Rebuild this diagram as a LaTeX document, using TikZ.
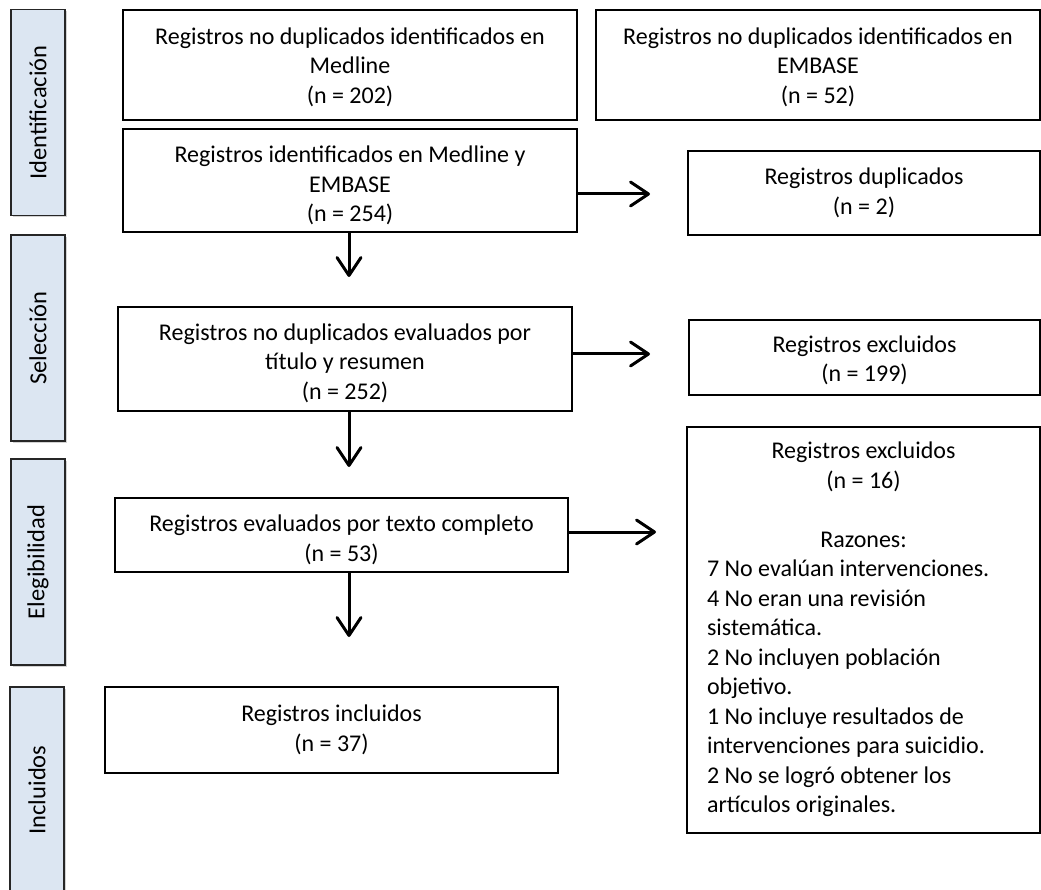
\documentclass[tikz,border=0pt]{standalone}
\usepackage{fontspec}
\setmainfont{Carlito}
\usepackage{graphicx}
\usetikzlibrary{arrows.meta,shadows}
\definecolor{sidefill}{RGB}{220,230,242}
\begin{document}
\begin{tikzpicture}[x=1pt,y=-1pt,
  txt/.style={align=center, inner sep=0pt, font=\fontsize{24}{29.5}\selectfont},
  boxbase/.style={draw=black, line width=1.6pt, inner sep=0pt, font=\fontsize{24}{29.5}\selectfont},
  box/.style={boxbase},
  side/.style={draw=black!85, line width=1.6pt, fill=sidefill, minimum width=54pt, minimum height=206pt, inner sep=0pt,
    drop shadow={shadow xshift=2pt, shadow yshift=-2pt, opacity=0.35}, font=\fontsize{24.5}{29.5}\selectfont},
  arr/.style={line width=3pt, -{Straight Barb[length=18pt,width=24pt,round]}}]
\useasboundingbox (0,0) rectangle (1041,890);

% side labels
\node[side] (s1) at (38,112.5) {\rotatebox{90}{Identificación}};
\node[side] (s2) at (38,338) {\rotatebox{90}{Selección}};
\node[side] (s3) at (38,562) {\rotatebox{90}{Elegibilidad}};
\node[side] (s4) at (37,790) {\rotatebox{90}{Incluidos}};

% boxes
\node[box, minimum width=454pt, minimum height=110pt,
  label={[txt,yshift=-2pt]center:Registros no duplicados identificados en\\Medline\\(n = 202)}] (b1) at (350,65) {};
\node[box, minimum width=444pt, minimum height=110pt,
  label={[txt,yshift=-2pt]center:Registros no duplicados identificados en\\EMBASE\\(n = 52)}] (b2) at (818,65) {};
\node[box, minimum width=454pt, minimum height=103pt,
  label={[txt,yshift=-5pt]center:Registros identificados en Medline y\\EMBASE\\(n = 254)}] (b3) at (350,180.5) {};
\node[box, minimum width=352pt, minimum height=84pt,
  label={[txt,yshift=0pt]center:Registros duplicados\\(n = 2)}] (b4) at (864,193) {};
\node[box, minimum width=454pt, minimum height=104pt,
  label={[txt,yshift=-4pt]center:Registros no duplicados evaluados por\\título y resumen\\(n = 252)}] (b5) at (345,359) {};
\node[box, minimum width=351pt, minimum height=75pt,
  label={[txt,yshift=-3pt]center:Registros excluidos\\(n = 199)}] (b6) at (864.5,357.5) {};
\node[box, minimum width=453pt, minimum height=74pt,
  label={[txt,yshift=-5pt]center:Registros evaluados por texto completo\\(n = 53)}] (b7) at (341.5,535) {};
\node[boxbase, minimum width=353pt, minimum height=406pt] (b8) at (863.5,630)
  {\begin{tabular}{@{}l@{}}
   \makebox[313pt][c]{Registros excluidos}\\
   \makebox[313pt][c]{(n = 16)}\\[29.5pt]
   \makebox[313pt][c]{Razones:}\\
   7 No evalúan intervenciones.\\
   4 No eran una revisión\\
   sistemática.\\
   2 No incluyen población\\
   objetivo.\\
   1 No incluye resultados de\\
   intervenciones para suicidio.\\
   2 No se logró obtener los\\
   artículos originales.
   \end{tabular}};
\node[box, minimum width=453pt, minimum height=86pt,
  label={[txt,yshift=0pt]center:Registros incluidos\\(n = 37)}] (b9) at (331.5,730) {};

% arrows
\coordinate (t1) at (650,194);
\coordinate (t2) at (650,354);
\coordinate (t3) at (656,532);
\coordinate (d1) at (349,277);
\coordinate (d2) at (349,467);
\coordinate (d3) at (349,637);
\draw[arr] (b3.east |- t1) -- (t1);
\draw[arr] (b5.east |- t2) -- (t2);
\draw[arr] (b7.east |- t3) -- (t3);
\draw[arr] (b3.south -| d1) -- (d1);
\draw[arr] (b5.south -| d2) -- (d2);
\draw[arr] (b7.south -| d3) -- (d3);
\end{tikzpicture}
\end{document}
